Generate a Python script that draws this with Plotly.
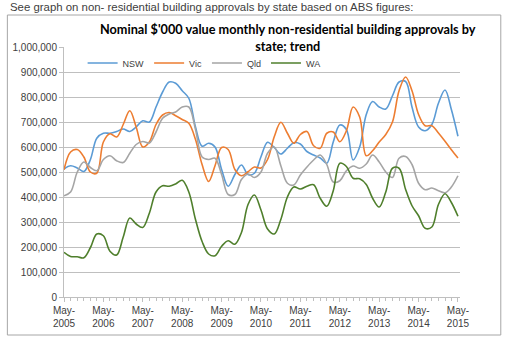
import pandas as pd
import plotly.graph_objects as go

# Bi-monthly readings, May-2005 .. May-2015 ($'000)
dates = pd.date_range("2005-05-01", periods=61, freq="2MS")

nsw = [512, 525, 516, 502, 550, 635, 655, 655, 662, 672, 662, 680, 705, 700, 760, 820,
       860, 855, 825, 795, 680, 603, 615, 600, 510, 443, 490, 528, 490, 495, 561, 619,
       598, 572, 595, 617, 612, 582, 568, 556, 535, 620, 688, 670, 548, 600, 730, 782,
       760, 752, 805, 860, 862, 760, 680, 665, 690, 775, 828, 750, 643]
vic = [509, 580, 590, 560, 500, 495, 620, 653, 640, 690, 745, 680, 600, 620, 690, 728,
       738, 725, 710, 695, 630, 530, 462, 525, 598, 590, 510, 485, 501, 520, 516, 550,
       641, 699, 655, 615, 650, 662, 605, 595, 655, 660, 621, 665, 760, 720, 565, 585,
       620, 650, 700, 825, 880, 825, 730, 685, 685, 656, 623, 589, 556]
qld = [405, 420, 500, 540, 518, 505, 550, 565, 545, 538, 575, 610, 622, 616, 660, 715,
       732, 740, 760, 760, 670, 560, 550, 555, 490, 410, 410, 470, 492, 478, 500, 575,
       600, 525, 455, 448, 488, 520, 548, 568, 530, 460, 465, 505, 524, 515, 532, 568,
       540, 500, 478, 555, 562, 530, 455, 429, 436, 425, 417, 440, 485]
wa = [179, 162, 161, 157, 198, 252, 245, 183, 168, 240, 316, 292, 278, 335, 420, 445,
      443, 452, 467, 420, 310, 222, 172, 165, 203, 225, 211, 258, 370, 408, 348, 272,
      252, 310, 400, 440, 432, 443, 449, 395, 363, 425, 535, 522, 475, 473, 450, 395,
      360, 420, 515, 515, 430, 365, 325, 275, 280, 370, 413, 378, 323]

series = [("NSW", nsw, "#5B9BD5"), ("Vic", vic, "#ED7D31"),
          ("Qld", qld, "#A5A5A5"), ("WA", wa, "#4F7F2C")]

years = list(range(2005, 2016))
tick_dates = [f"{y}-05-01" for y in years]
tick_text = [f"May-<br>{y}" for y in years]
y_ticks = list(range(0, 1000001, 100000))
y_text = [f"{v:,}" for v in y_ticks]

fig = go.Figure()
for name, vals, col in series:
    fig.add_trace(go.Scatter(
        x=dates, y=[v * 1000 for v in vals], name=name, mode="lines",
        line=dict(color=col, width=1.6, shape="spline", smoothing=1.0),
    ))

axis_font = dict(family="Liberation Sans", size=10, color="#404040")

fig.update_layout(
    width=509, height=341,
    margin=dict(l=62, r=49, t=47, b=44),
    paper_bgcolor="white", plot_bgcolor="white",
    showlegend=True,
    legend=dict(orientation="h", x=0.047, y=0.936, xanchor="left", yanchor="middle",
                font=dict(family="Liberation Sans", size=9, color="#404040"),
                bgcolor="rgba(0,0,0,0)", itemwidth=30, tracegroupgap=0),
    xaxis=dict(
        type="date", range=["2005-05-01", "2015-05-20"],
        tickvals=tick_dates, ticktext=tick_text, tickfont=axis_font,
        showgrid=False, showline=True, linecolor="#BFBFBF", linewidth=1,
        ticks="outside", ticklen=4, tickcolor="#BFBFBF",
        minor=dict(dtick="M2", tick0="2005-05-01", ticks="outside", ticklen=3,
                   tickcolor="#BFBFBF", showgrid=False),
        zeroline=False,
    ),
    yaxis=dict(
        range=[0, 1000000], tickvals=y_ticks, ticktext=y_text, tickfont=axis_font,
        showgrid=True, gridcolor="#BFBFBF", gridwidth=1,
        showline=True, linecolor="#BFBFBF", ticks="outside", ticklen=4,
        tickcolor="#BFBFBF", zeroline=False,
    ),
    shapes=[dict(type="rect", xref="paper", yref="paper",
                 x0=-0.143, x1=1.103, y0=-0.152, y1=1.128,
                 line=dict(color="#A6A6A6", width=1), fillcolor="rgba(0,0,0,0)",
                 layer="below")],
    annotations=[
        dict(text="See graph on non- residential building approvals by state based on ABS figures:",
             xref="paper", yref="paper", x=-0.141, y=1.16, xanchor="left", yanchor="middle",
             showarrow=False, font=dict(family="Liberation Sans", size=11.4, color="#404040")),
        dict(text="<b>Nominal $'000 value monthly non-residential building approvals by<br>state; trend</b>",
             xref="paper", yref="paper", x=0.565, y=1.036, xanchor="center", yanchor="middle",
             showarrow=False, align="center",
             font=dict(family="Lato", size=12.7, color="#000000")),
    ],
)

fig.write_html("out.html")
